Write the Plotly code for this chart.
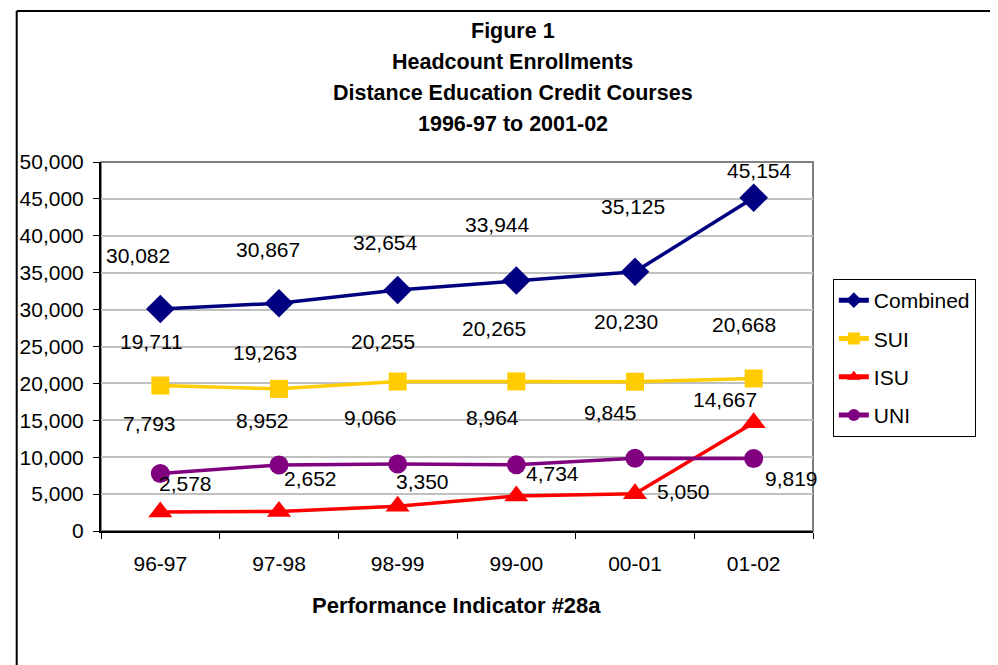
import plotly.graph_objects as go

# ---------------- data ----------------
categories = ["96-97", "97-98", "98-99", "99-00", "00-01", "01-02"]
combined = [30082, 30867, 32654, 33944, 35125, 45154]
sui = [19711, 19263, 20255, 20265, 20230, 20668]
isu = [2578, 2652, 3350, 4734, 5050, 14667]
uni = [7793, 8952, 9066, 8964, 9845, 9819]

title_lines = ["Figure 1", "Headcount Enrollments",
               "Distance Education Credit Courses", "1996-97 to 2001-02"]
x_title = "Performance Indicator #28a"
y_ticks = [0, 5000, 10000, 15000, 20000, 25000, 30000, 35000, 40000, 45000, 50000]

# ---------------- styles ----------------
FONT = "Liberation Sans, Arial, sans-serif"
PAGE_OFF = 8                      # browser body margin
W, H = 998 - PAGE_OFF, 665 - PAGE_OFF
# plot-area pixel edges in screen coordinates
SL, SR, ST, SB = 95, 813, 162, 531
L, R, T, B = SL - PAGE_OFF, SR - PAGE_OFF, ST - PAGE_OFF, SB - PAGE_OFF

series = [
    ("Combined", combined, "#000080", "diamond", 22),
    ("SUI", sui, "#FFCC00", "square", 18),
    ("ISU", isu, "#FF0000", "triangle-up", 21),
    ("UNI", uni, "#800080", "circle", 19),
]

# label offsets (dx, dy) in screen pixels (dy positive = down)
label_offsets = {
    "Combined": [(-22, -53), (-11, -54), (-12, -48), (-19, -56), (-2, -65), (6, -27)],
    "SUI": [(-9, -44), (-14, -36), (-15, -40), (-22, -53), (-9, -60), (-10, -54)],
    "ISU": [(25, -28), (31, -33), (25, -25), (36, -23), (48, -2), (-29, -23)],
    "UNI": [(-11, -50), (-17, -44), (-27, -47), (-24, -47), (-25, -46), (38, 20)],
}

def px_x(p):  # screen px -> paper
    return (p - SL) / (SR - SL)

def px_y(p):
    return (SB - p) / (SB - ST)

fig = go.Figure()
for name, vals, color, sym, size in series:
    fig.add_trace(go.Scatter(
        x=categories, y=vals, name=name, mode="lines+markers",
        line=dict(color=color, width=3.5),
        marker=dict(symbol=sym, size=size, color=color),
        legendgroup=name, cliponaxis=False,
    ))
    for i, (c, v) in enumerate(zip(categories, vals)):
        dx, dy = label_offsets[name][i]
        fig.add_annotation(
            x=c, y=v, text=f"{v:,}", showarrow=False,
            xshift=dx, yshift=-dy,
            font=dict(family=FONT, size=21, color="#000000"),
        )

# title lines
for j, line in enumerate(title_lines):
    fig.add_annotation(
        xref="paper", yref="paper", x=px_x(510), y=px_y(31 + 31 * j),
        text=f"<b>{line}</b>", showarrow=False,
        xanchor="center", yanchor="middle",
        font=dict(family=FONT, size=21.5, color="#000000"),
    )

# x-axis title
fig.add_annotation(
    xref="paper", yref="paper", x=px_x(453), y=px_y(605),
    text=f"<b>{x_title}</b>", showarrow=False,
    xanchor="center", yanchor="middle",
    font=dict(family=FONT, size=22, color="#000000"),
)

# plot-area border (gray) and outer figure border
fig.add_shape(type="rect", xref="paper", yref="paper", x0=0, x1=1, y0=0, y1=1,
              line=dict(color="#808080", width=2), layer="below")
fig.add_shape(type="line", xref="paper", yref="paper",
              x0=px_x(10), x1=px_x(10), y0=px_y(11), y1=px_y(700),
              line=dict(color="#000000", width=2))
fig.add_shape(type="line", xref="paper", yref="paper",
              x0=px_x(10), x1=px_x(1100), y0=px_y(11), y1=px_y(11),
              line=dict(color="#000000", width=2))

fig.update_layout(
    width=W, height=H,
    margin=dict(l=L, r=W - R, t=T, b=H - B, pad=0),
    paper_bgcolor="#FFFFFF", plot_bgcolor="#FFFFFF",
    font=dict(family=FONT, size=21, color="#000000"),
    showlegend=True,
    legend=dict(
        x=px_x(833), y=px_y(279), xanchor="left", yanchor="top",
        bordercolor="#000000", borderwidth=1, bgcolor="#FFFFFF",
        font=dict(family=FONT, size=21, color="#000000"),
        tracegroupgap=8, itemsizing="constant",
    ),
)
fig.update_xaxes(
    type="category", range=[-0.5, 5.5],
    showline=True, linecolor="#000000", linewidth=2,
    ticks="outside", tickson="boundaries", ticklen=6, tickcolor="#000000",
    showgrid=False, zeroline=False,
    tickfont=dict(family=FONT, size=21, color="#000000"),
    ticklabelstandoff=13,
)
fig.update_yaxes(
    range=[0, 50000], tickvals=y_ticks, tickformat=",d",
    showline=True, linecolor="#000000", linewidth=2,
    ticks="outside", ticklen=6, tickcolor="#000000",
    showgrid=True, gridcolor="#C0C0C0", gridwidth=2,
    zeroline=False,
    tickfont=dict(family=FONT, size=21, color="#000000"),
    ticklabelstandoff=5,
)

fig.write_html("out.html")
